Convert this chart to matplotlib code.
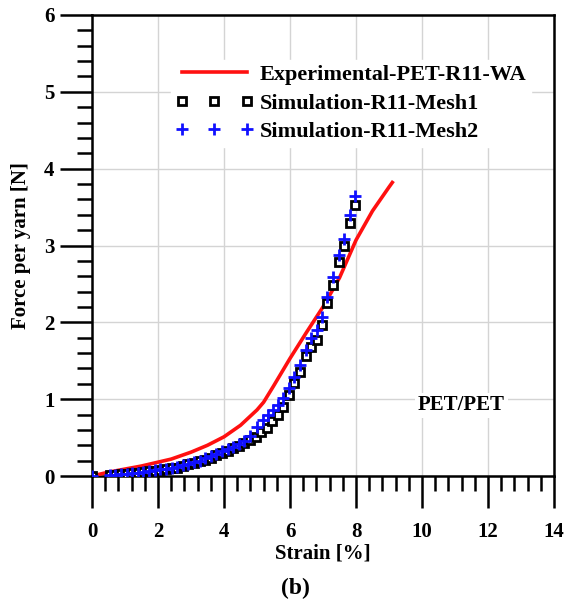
import matplotlib
matplotlib.use("Agg")
import matplotlib.pyplot as plt
from matplotlib.ticker import MultipleLocator

# ── Données ─────────────────────────────────────────────────────
exp_strain = [0.0, 0.5, 1.0, 1.5, 2.0, 2.4, 3.0, 3.5, 4.0, 4.5, 5.0, 5.2,
              5.5, 6.0, 6.5, 7.0, 7.5, 8.0, 8.5, 9.0, 9.1]
exp_force = [0.0, 0.05, 0.09, 0.13, 0.18, 0.22, 0.31, 0.40, 0.51, 0.66, 0.86,
             0.96, 1.17, 1.53, 1.87, 2.20, 2.58, 3.07, 3.45, 3.76, 3.82]

mesh1_strain = [0.0, 0.54, 0.71, 0.88, 1.05, 1.22, 1.39, 1.56, 1.73, 1.90,
                2.07, 2.24, 2.41, 2.58, 2.75, 2.92, 3.09, 3.26, 3.43, 3.60,
                3.77, 3.94, 4.11, 4.28, 4.45, 4.62, 4.79, 4.96, 5.12, 5.29,
                5.46, 5.63, 5.80, 5.97, 6.13, 6.30, 6.48, 6.63, 6.81, 6.98,
                7.11, 7.29, 7.47, 7.64, 7.82, 7.97]
mesh1_force = [0.0, 0.01, 0.015, 0.02, 0.03, 0.035, 0.04, 0.05, 0.06, 0.07,
               0.08, 0.09, 0.10, 0.11, 0.13, 0.15, 0.17, 0.19, 0.21, 0.24,
               0.27, 0.30, 0.33, 0.36, 0.39, 0.43, 0.47, 0.51, 0.57, 0.62,
               0.71, 0.79, 0.90, 1.06, 1.21, 1.36, 1.56, 1.68, 1.77, 1.97,
               2.25, 2.49, 2.79, 2.99, 3.29, 3.53]

mesh2_strain = [0.0, 0.54, 0.71, 0.88, 1.05, 1.22, 1.39, 1.56, 1.73, 1.90,
                2.07, 2.24, 2.41, 2.58, 2.75, 2.92, 3.09, 3.26, 3.43, 3.60,
                3.77, 3.94, 4.11, 4.28, 4.45, 4.62, 4.79, 4.99, 5.19, 5.34,
                5.49, 5.65, 5.80, 5.98, 6.13, 6.30, 6.48, 6.63, 6.81, 6.98,
                7.11, 7.29, 7.47, 7.64, 7.82, 7.97]
mesh2_force = [0.0, 0.01, 0.015, 0.025, 0.03, 0.04, 0.045, 0.055, 0.065, 0.075,
               0.085, 0.095, 0.11, 0.12, 0.14, 0.16, 0.18, 0.20, 0.23, 0.26,
               0.29, 0.32, 0.35, 0.38, 0.42, 0.46, 0.52, 0.64, 0.73, 0.79,
               0.86, 0.92, 1.01, 1.14, 1.29, 1.44, 1.64, 1.79, 1.90, 2.07,
               2.33, 2.59, 2.88, 3.09, 3.40, 3.64]

LABELS = ["Experimental-PET-R11-WA", "Simulation-R11-Mesh1",
          "Simulation-R11-Mesh2"]

plt.rcParams["font.family"] = ["Liberation Serif", "DejaVu Serif"]
plt.rcParams["font.weight"] = "bold"
# graduations vers l'extérieur, longues (style Tecplot)
plt.rcParams.update({
    "xtick.direction": "out", "ytick.direction": "out",
    "xtick.major.size": 23, "ytick.major.size": 23,
    "xtick.minor.size": 11, "ytick.minor.size": 11,
    "xtick.major.width": 1.8, "ytick.major.width": 1.8,
    "xtick.minor.width": 1.8, "ytick.minor.width": 1.8,
    "xtick.major.pad": 10, "ytick.major.pad": 4,
    "xtick.labelsize": 15, "ytick.labelsize": 15,
    "xtick.top": False, "ytick.right": False,
    "ytick.minor.visible": True, "xtick.minor.visible": True,
})

W, H = 566, 602
fig = plt.figure(figsize=(W / 100, H / 100), dpi=100)
ax = fig.add_axes([92 / W, 126 / H, 462 / W, 461 / H])

ax.plot(exp_strain, exp_force, color="#ff1010", lw=2.6, label=LABELS[0],
        zorder=3)
ax.plot(mesh1_strain, mesh1_force, ls="none", marker="s", ms=6,
        mfc="white", mec="black", mew=2.0, label=LABELS[1], zorder=4)
ax.plot(mesh2_strain, mesh2_force, ls="none", marker="+", ms=8,
        mec="#1010ff", mew=2.0, label=LABELS[2], zorder=5)

ax.set_xlim(0, 14)
ax.set_ylim(0, 6)
ax.set_xticks([0, 2, 4, 6, 8, 10, 12, 14])
ax.set_yticks([0, 1, 2, 3, 4, 5, 6])
ax.xaxis.set_minor_locator(MultipleLocator(0.4))
ax.yaxis.set_minor_locator(MultipleLocator(0.2))

ax.grid(which="major", color="#d4d4d4", lw=1.0, zorder=0)
ax.set_axisbelow(True)
for sp in ax.spines.values():
    sp.set_linewidth(1.8)

ax.set_xlabel("Strain [%]", fontsize=15, fontweight="bold", labelpad=1)
ax.set_ylabel("Force per yarn [N]", fontsize=15, fontweight="bold",
              labelpad=9)

leg = ax.legend(loc="upper left", bbox_to_anchor=(171 / W, 1 - 60 / H),
                bbox_transform=fig.transFigure, borderaxespad=0,
                numpoints=3, handlelength=3.5, handletextpad=0.3,
                labelspacing=0.36, frameon=True, fancybox=False,
                edgecolor="white", facecolor="white", framealpha=1,
                prop={"size": 16, "weight": "bold"}, borderpad=0.2)
leg.set_zorder(6)

ax.text(11.2, 0.92, "PET/PET", fontsize=15, fontweight="bold",
        ha="center", va="center",
        bbox=dict(facecolor="white", edgecolor="none", pad=2), zorder=6)

fig.text(295 / W, 1 - 588 / H, "(b)", fontsize=17, fontweight="bold",
         ha="center", va="center")

fig.savefig("out.png", dpi=100)
